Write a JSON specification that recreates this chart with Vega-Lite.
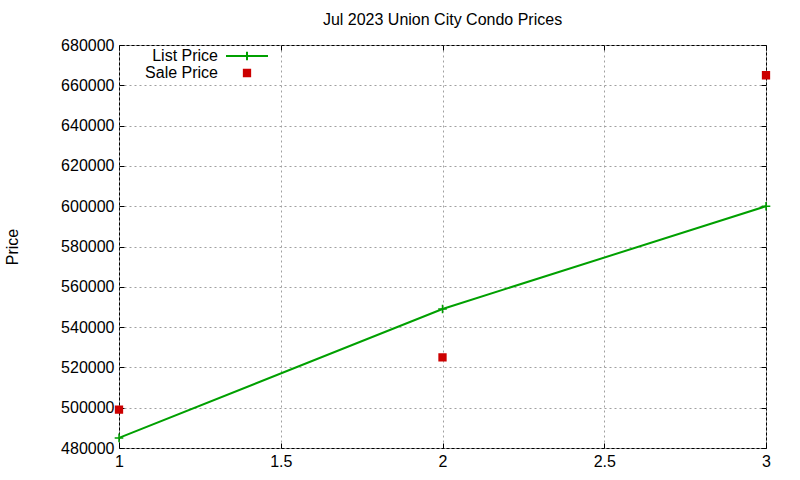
{
  "$schema": "https://vega.github.io/schema/vega-lite/v6.json",
  "autosize": "none",
  "width": 647,
  "height": 403,
  "padding": {"left": 119, "top": 45, "right": 34, "bottom": 32},
  "background": "white",
  "title": {
    "text": "Jul 2023 Union City Condo Prices",
    "fontSize": 16,
    "fontWeight": "normal",
    "anchor": "middle",
    "offset": 9
  },
  "data": {
    "values": [
      {"x": 1, "series": "List Price", "price": 485000},
      {"x": 2, "series": "List Price", "price": 549000},
      {"x": 3, "series": "List Price", "price": 600000},
      {"x": 1, "series": "Sale Price", "price": 499000},
      {"x": 2, "series": "Sale Price", "price": 525000},
      {"x": 3, "series": "Sale Price", "price": 665000}
    ]
  },
  "layer": [
    {
      "transform": [{"filter": "datum.series == 'List Price'"}],
      "mark": {"type": "line", "color": "#00a000", "strokeWidth": 2},
      "encoding": {
        "x": {
          "field": "x", "type": "quantitative",
          "scale": {"domain": [1, 3], "nice": false, "zero": false},
          "axis": {"orient": "bottom", "values": [1, 1.5, 2, 2.5, 3], "labelExpr": "'' + datum.value", "labelFlush": false, "grid": true, "title": null}
        },
        "y": {
          "field": "price", "type": "quantitative",
          "scale": {"domain": [480000, 680000], "nice": false, "zero": false},
          "axis": {"orient": "left", "tickCount": 10, "format": "d", "grid": true, "title": "Price"}
        }
      }
    },
    {
      "transform": [{"filter": "datum.series == 'List Price'"}],
      "mark": {"type": "point", "shape": "M-1.15,0H1.15M0,-1.15V1.15", "size": 56, "color": "#00a000", "strokeWidth": 1.5, "opacity": 1},
      "encoding": {
        "x": {
          "field": "x", "type": "quantitative",
          "axis": {"orient": "top", "values": [1, 1.5, 2, 2.5, 3], "labels": false, "grid": false, "title": null}
        },
        "y": {
          "field": "price", "type": "quantitative",
          "axis": {"orient": "right", "tickCount": 10, "labels": false, "grid": false, "title": null}
        }
      }
    },
    {
      "transform": [{"filter": "datum.series == 'Sale Price'"}],
      "mark": {"type": "point", "size": 196, "strokeWidth": 2, "opacity": 1},
      "encoding": {
        "x": {"field": "x", "type": "quantitative", "axis": null},
        "y": {"field": "price", "type": "quantitative", "axis": null},
        "shape": {
          "field": "series", "type": "nominal",
          "scale": {"domain": ["List Price", "Sale Price"], "range": ["M-3,0H3M0,-0.6V0.6", "M-0.45,-0.45H0.45V0.45H-0.45Z"]},
          "legend": {"title": null}
        },
        "stroke": {
          "field": "series", "type": "nominal",
          "scale": {"domain": ["List Price", "Sale Price"], "range": ["#00a000", "#cc0000"]},
          "legend": {"title": null}
        },
        "fill": {
          "field": "series", "type": "nominal",
          "scale": {"domain": ["List Price", "Sale Price"], "range": ["transparent", "#cc0000"]},
          "legend": {"title": null}
        }
      }
    }
  ],
  "config": {
    "font": "Liberation Sans",
    "view": {"stroke": "black", "strokeWidth": 1},
    "axis": {
      "domain": false,
      "tickColor": "black",
      "tickSize": -5,
      "tickWidth": 1,
      "labelFontSize": 16,
      "labelColor": "black",
      "labelFont": "Liberation Sans",
      "titleFontSize": 16,
      "titleFontWeight": "normal",
      "titleColor": "black",
      "gridColor": "#a0a0a0",
      "gridDash": [2, 3],
      "gridOpacity": 1,
      "gridWidth": 1
    },
    "axisLeft": {"labelPadding": 10, "titlePadding": 40},
    "axisBottom": {"labelPadding": 10},
    "legend": {
      "orient": "none",
      "legendX": 120,
      "legendY": 3,
      "labelFontSize": 16,
      "labelColor": "black",
      "labelAlign": "right",
      "labelOffset": -37,
      "rowPadding": -1,
      "symbolSize": 196,
      "symbolStrokeWidth": 2,
      "padding": 0
    }
  }
}
